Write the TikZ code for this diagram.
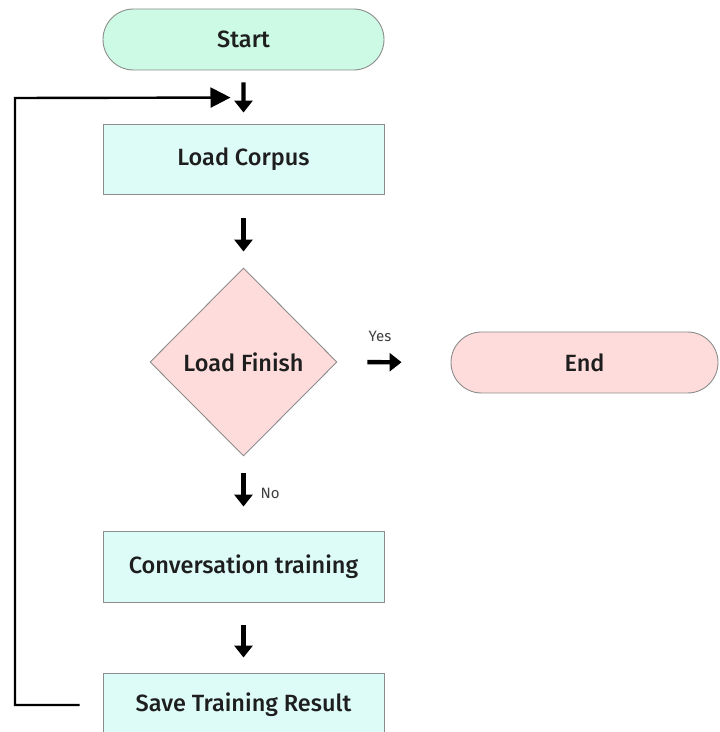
\documentclass[tikz,border=0pt]{standalone}
\usepackage{fontspec}
\setmainfont{Fira Sans Medium}
\newfontfamily\tagfont{Fira Sans}
\usepackage{tikz}
\usetikzlibrary{arrows.meta,calc,positioning,shapes.geometric,shapes.misc}
\definecolor{flowink}{HTML}{1E1E1E}
\definecolor{flowedge}{HTML}{8C8C8C}
\definecolor{flowmint}{HTML}{CCFAE4}
\definecolor{flowcyan}{HTML}{DDFCF8}
\definecolor{flowpink}{HTML}{FFDCDC}
\begin{document}
\begin{tikzpicture}[x=1pt,y=1pt,line cap=butt,line join=miter,
  font=\fontsize{23.5}{26}\selectfont,text=flowink,
  pill/.style={rounded rectangle,draw=flowedge,line width=.9pt,
    minimum height=61pt,inner sep=0pt},
  stepbox/.style={rectangle,draw=flowedge,line width=.9pt,fill=flowcyan,
    minimum width=281pt,minimum height=70pt,inner sep=0pt},
  ask/.style={diamond,draw=flowedge,line width=.9pt,fill=flowpink,
    minimum width=187pt,minimum height=188pt,inner sep=0pt},
  stub/.style={line width=4.4pt,-{Triangle[length=12pt,width=18pt]}},
  back/.style={line width=2.4pt,-{Triangle[length=20pt,width=20pt]}},
  tag/.style={font=\tagfont\fontsize{15}{17}\selectfont,text=flowink!85,inner sep=1pt}]
\path[use as bounding box] (0,0) rectangle (720,732);
\fill[white] (0,0) rectangle (720,732);

% main column
\node[pill,fill=flowmint,minimum width=281pt] (start) at (243.5,692.5) {Start};
\node[stepbox] (corpus) at (243.5,573) {Load Corpus};
\node[ask] (finish) at (243.5,370) {Load Finish};
\node[stepbox,minimum height=71pt] (train) at (243.5,165.5) {Conversation training};
\node[stepbox,minimum height=64pt] (save) at (243.5,27) {Save Training Result};
\node[pill,fill=flowpink,minimum width=267pt] (end) at (584.5,369.5) {End};

% short arrows between the boxes
\draw[stub,shorten <=12pt,shorten >=11pt] (start) -- (corpus);
\draw[stub,shorten <=24pt,shorten >=16pt] (corpus) -- (finish);
\draw[stub,shorten <=17pt,shorten >=24pt] (finish) -- (train)
  node[pos=.5,right=14pt,tag] (no) {No};
\draw[stub,shorten <=23pt,shorten >=15pt] (train) -- (save);
\draw[stub,shorten <=30pt,shorten >=49pt] (finish) -- (end);
\node[tag] (yes) at (380,396) {Yes};

% loop back to the corpus step
\coordinate (corner) at (15,634);
\coordinate (entry) at ($(corpus.north)+(-13,26)$);
\draw[back,shorten <=23pt] (save.west) -| (corner) -- (entry);
\end{tikzpicture}
\end{document}
